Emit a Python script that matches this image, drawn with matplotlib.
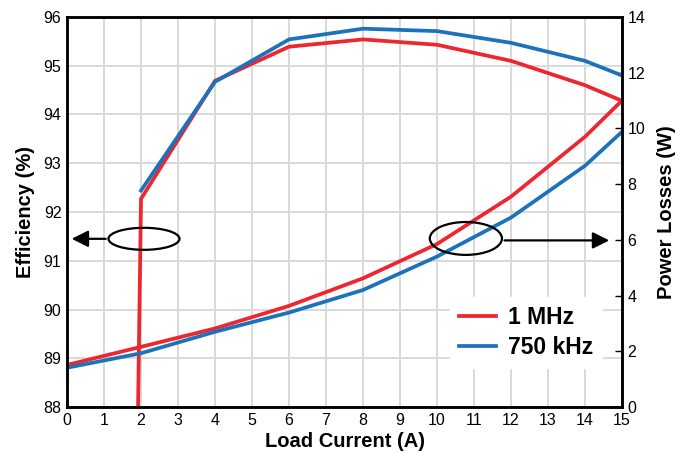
import matplotlib
matplotlib.use("Agg")
import matplotlib.pyplot as plt
from matplotlib.patches import Ellipse

fam = ['Liberation Sans', 'DejaVu Sans']
plt.rcParams['font.family'] = fam

# Data
x_eff = [2, 4, 6, 8, 10, 12, 14, 15]
eff_1mhz_x = [1.92, 2, 4, 6, 8, 10, 12, 14, 15]
eff_1mhz = [88.0, 92.27, 94.69, 95.39, 95.54, 95.43, 95.1, 94.6, 94.28]
eff_750k = [92.44, 94.67, 95.54, 95.76, 95.71, 95.47, 95.1, 94.8]

x_loss = [0, 2, 4, 6, 8, 10, 12, 14, 15]
loss_1mhz = [1.51, 2.16, 2.82, 3.63, 4.62, 5.85, 7.55, 9.70, 11.0]
loss_750k = [1.41, 1.93, 2.70, 3.39, 4.20, 5.40, 6.80, 8.66, 9.88]

labels = ['1 MHz', '750 kHz']
RED = '#ee2630'
BLUE = '#1c72bb'

fig = plt.figure(figsize=(6.75, 4.54), dpi=100)
ax = fig.add_axes([0.0993, 0.1035, 0.8222, 0.8591])
ax2 = ax.twinx()

ax.set_xlim(0, 15)
ax.set_ylim(88, 96)
ax2.set_ylim(0, 14)
ax.set_xticks(range(0, 16))
ax.set_yticks(range(88, 97))
ax2.set_yticks(range(0, 15, 2))
ax.grid(True, color='#d9d9d9', linewidth=1.4)
ax.set_axisbelow(True)


def to_right(v):
    return (v - 88) / 8 * 14


lw = 2.7
ax2.plot(eff_1mhz_x, [to_right(v) for v in eff_1mhz], color=RED, lw=lw)
ax2.plot(x_eff, [to_right(v) for v in eff_750k], color=BLUE, lw=lw)
l1, = ax2.plot(x_loss, loss_1mhz, color=RED, lw=lw, label=labels[0])
l2, = ax2.plot(x_loss, loss_750k, color=BLUE, lw=lw, label=labels[1])

for a in (ax, ax2):
    for s in a.spines.values():
        s.set_linewidth(1.8)
        s.set_color('black')
ax.tick_params(axis='both', length=0, labelsize=11.5, pad=4)
ax2.tick_params(axis='y', direction='in', length=5, width=1, labelsize=11.5, pad=4)

ax.set_xlabel('Load Current (A)', fontsize=14.5, fontweight='bold', labelpad=3)
ax.set_ylabel('Efficiency (%)', fontsize=14.5, fontweight='bold', labelpad=6)
ax2.set_ylabel('Power Losses (W)', fontsize=14.5, fontweight='bold', labelpad=8)

# annotations (ellipses and arrows)
ya = to_right(91.45)
ax2.add_patch(Ellipse((2.08, ya), 1.92, 0.79, fill=False, ec='black', lw=1.6, zorder=5))
ax2.annotate('', xy=(0.05, ya), xytext=(1.12, ya),
             arrowprops=dict(arrowstyle='-|>,head_length=1.0,head_width=0.5', color='black', lw=1.6), zorder=5)
ax2.add_patch(Ellipse((10.78, 6.05), 1.95, 1.18, fill=False, ec='black', lw=1.6, zorder=5))
ax2.annotate('', xy=(14.73, 5.98), xytext=(11.75, 5.98),
             arrowprops=dict(arrowstyle='-|>,head_length=1.0,head_width=0.5', color='black', lw=1.6), zorder=5)

leg = ax2.legend(handles=[l1, l2], loc='lower left', bbox_to_anchor=(0.67, 0.07),
                 frameon=True, fancybox=False, framealpha=1, edgecolor='white',
                 prop=dict(size=16.5, weight='bold', family=fam), handlelength=1.6,
                 handletextpad=0.5, labelspacing=0.3, borderpad=0.4)
leg.set_zorder(10)

fig.savefig('out.png', dpi=100)
